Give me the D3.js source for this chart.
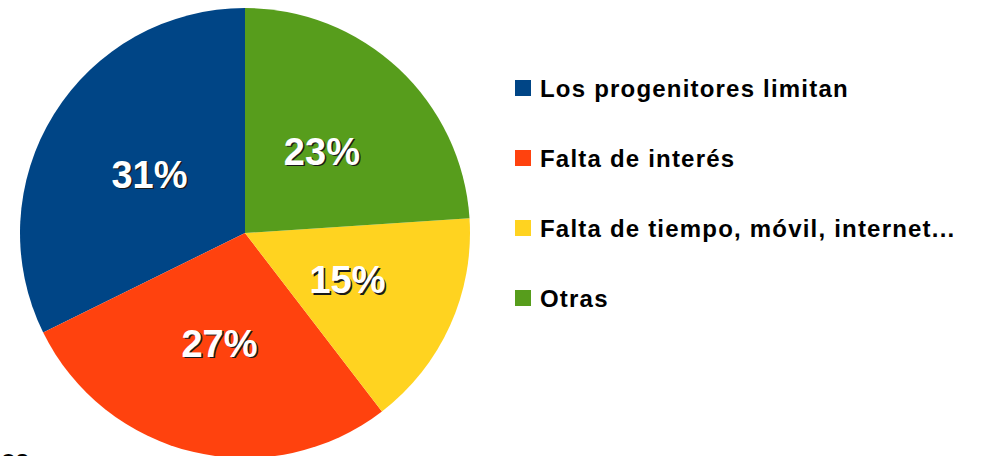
<!DOCTYPE html>
<html>
<head>
<meta charset="utf-8">
<script src="https://cdn.jsdelivr.net/npm/d3@7"></script>
<style>
  body { margin: 0; background: #fff; }
  svg { display: block; font-family: "Liberation Sans", Arial, sans-serif; }
</style>
</head>
<body>
<div id="chart"></div>
<script>
const categories = ['Los progenitores limitan', 'Falta de interés', 'Falta de tiempo, móvil, internet...', 'Otras'];
const values = [31, 27, 15, 23];
const labels = ['31%', '27%', '15%', '23%'];
const colors = ['#004586', '#ff420e', '#ffd320', '#579d1c'];

const width = 981, height = 456;
const cx = 245, cy = 233, radius = 225;

const svg = d3.select('#chart').append('svg')
  .attr('width', width)
  .attr('height', height);

const data = categories.map((c, i) => ({name: c, value: values[i], label: labels[i], color: colors[i]}));

// counterclockwise from 12 o'clock, like the original
const pie = d3.pie()
  .sort(null)
  .value(d => d.value)
  .startAngle(2 * Math.PI)
  .endAngle(0);

const arc = d3.arc().innerRadius(0).outerRadius(radius);
const labelArc = d3.arc().innerRadius(radius * 0.5).outerRadius(radius * 0.5);

const g = svg.append('g').attr('transform', `translate(${cx},${cy})`);

g.selectAll('path.slice')
  .data(pie(data))
  .enter().append('path')
  .attr('class', 'slice')
  .attr('d', arc)
  .attr('fill', d => d.data.color);

const lbl = g.selectAll('g.lbl')
  .data(pie(data))
  .enter().append('g')
  .attr('class', 'lbl')
  .attr('transform', d => `translate(${labelArc.centroid(d)})`);

// shadow
lbl.append('text')
  .attr('x', 1.5).attr('y', 15.5)
  .attr('text-anchor', 'middle')
  .attr('font-size', 38)
  .attr('font-weight', 'bold')
  .attr('fill', '#1a1a1a')
  .text(d => d.data.label);

lbl.append('text')
  .attr('y', 14)
  .attr('text-anchor', 'middle')
  .attr('font-size', 38)
  .attr('font-weight', 'bold')
  .attr('fill', '#fff')
  .text(d => d.data.label);

// legend
const legendY = d3.scalePoint()
  .domain(categories)
  .range([96.5, 306.5]);

const legend = svg.append('g');
const item = legend.selectAll('g')
  .data(data)
  .enter().append('g')
  .attr('transform', d => `translate(515,${legendY(d.name)})`);

item.append('rect')
  .attr('x', 0).attr('y', -16.5)
  .attr('width', 16).attr('height', 16)
  .attr('fill', d => d.color);

item.append('text')
  .attr('x', 25)
  .attr('font-size', 24)
  .attr('font-weight', 'bold')
  .attr('letter-spacing', 1.2)
  .attr('fill', '#000')
  .text(d => d.name);

// cut-off text at the bottom edge
svg.append('text')
  .attr('x', 1).attr('y', 467)
  .attr('font-size', 24)
  .attr('font-weight', 'bold')
  .text('os');
</script>
</body>
</html>
